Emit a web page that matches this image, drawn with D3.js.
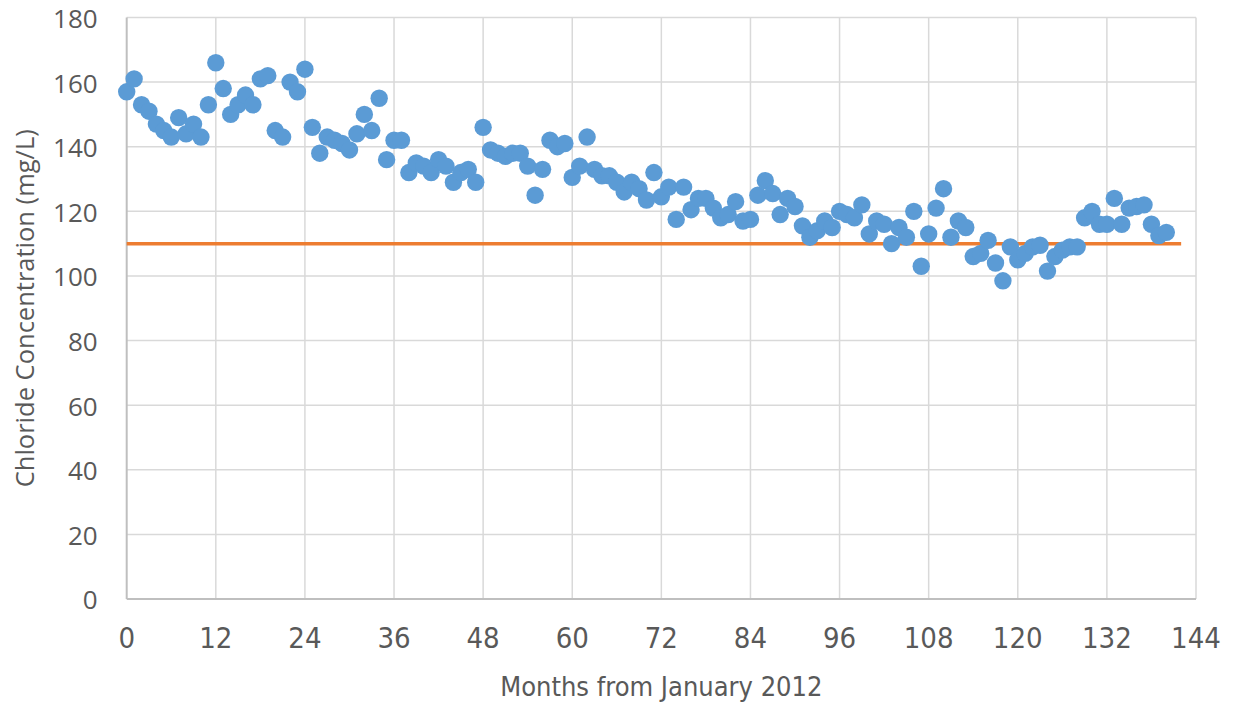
<!DOCTYPE html>
<html>
<head>
<meta charset="utf-8">
<script src="https://cdn.jsdelivr.net/npm/d3@7"></script>
<style>
  body { margin: 0; background: #fff; }
  text { fill: #595959; }
</style>
</head>
<body>
<div id="chart"></div>
<script>
"use strict"

// chloride readings, one per month from Jan 2012 (month 0..140)
var chloride = [
	157, 161, 153, 151, 147, 145, 143, 149, 144, 147, 143, 153, 166, 158, 150, 153, 156, 153, 161, 162,
	145, 143, 160, 157, 164, 146, 138, 143, 142, 141, 139, 144, 150, 145, 155, 136, 142, 142, 132, 135,
	134, 132, 136, 134, 129, 132, 133, 129, 146, 139, 138, 137, 138, 138, 134, 125, 133, 142, 140, 141,
	130.5, 134, 143, 133, 131, 131, 129, 126, 129, 127, 123.5, 132, 124.5, 127.5, 117.5, 127.5, 120.5, 124, 124, 121,
	118, 119, 123, 117, 117.5, 125, 129.5, 125.5, 119, 124, 121.5, 115.5, 112, 114, 117, 115, 120, 119, 118, 122,
	113, 117, 116, 110, 115, 112, 120, 103, 113, 121, 127, 112, 117, 115, 106, 107, 111, 104, 98.5, 109,
	105, 107, 109, 109.5, 101.5, 106, 108, 109, 109, 118, 120, 116, 116, 124, 116, 121, 121.5, 122, 116, 112.5,
	113.5
];
var months = chloride.map(function(d, i) { return i; });

// reference level line
var limitX = [0, 142],
	limitY = [110, 110];

var xTicks = [0, 12, 24, 36, 48, 60, 72, 84, 96, 108, 120, 132, 144],
	yTicks = [0, 20, 40, 60, 80, 100, 120, 140, 160, 180];

var width = 1235,
	height = 706;
var margin = {top: 17.5, right: 39, bottom: 107, left: 126.7};
var w = width - margin.left - margin.right;
var h = height - margin.top - margin.bottom;

var svg = d3.select("#chart").append("svg")
	.attr("width", width)
	.attr("height", height);

var g = svg.append("g")
	.attr("transform", "translate(" + margin.left + "," + margin.top + ")");

var xscale = d3.scaleLinear().domain([0, 144]).range([0, w]);
var yscale = d3.scaleLinear().domain([0, 180]).range([h, 0]);

// gridlines
g.selectAll("line.hgrid").data(yTicks.slice(1)).enter().append("line")
	.attr("class", "hgrid")
	.attr("x1", 0).attr("x2", w)
	.attr("y1", function(d) { return yscale(d); })
	.attr("y2", function(d) { return yscale(d); })
	.attr("stroke", "#d9d9d9").attr("stroke-width", 1.5);

g.selectAll("line.vgrid").data(xTicks.slice(1)).enter().append("line")
	.attr("class", "vgrid")
	.attr("x1", function(d) { return xscale(d); })
	.attr("x2", function(d) { return xscale(d); })
	.attr("y1", 0).attr("y2", h)
	.attr("stroke", "#d9d9d9").attr("stroke-width", 1.5);

// axis lines
g.append("line").attr("x1", 0).attr("x2", w).attr("y1", h).attr("y2", h)
	.attr("stroke", "#bfbfbf").attr("stroke-width", 2);
g.append("line").attr("x1", 0).attr("x2", 0).attr("y1", 0).attr("y2", h)
	.attr("stroke", "#bfbfbf").attr("stroke-width", 2);

// tick labels
g.selectAll("text.ylab").data(yTicks).enter().append("text")
	.attr("class", "ylab")
	.attr("x", -29)
	.attr("y", function(d) { return yscale(d); })
	.attr("dy", "0.4em")
	.attr("text-anchor", "end")
	.style("font-family", "'Open Sans', sans-serif")
	.style("font-size", "26px")
	.text(function(d) { return d; });

g.selectAll("text.xlab").data(xTicks).enter().append("text")
	.attr("class", "xlab")
	.attr("x", function(d) { return xscale(d); })
	.attr("y", h + 39)
	.attr("dy", "0.36em")
	.attr("text-anchor", "middle")
	.style("font-family", "'Liberation Sans Narrow', 'DejaVu Sans Condensed', 'Open Sans', sans-serif")
	.style("font-size", "29px")
	.text(function(d) { return d; });

// axis titles
svg.append("text")
	.attr("transform", "translate(34," + (margin.top + h / 2) + ") rotate(-90)")
	.attr("text-anchor", "middle")
	.style("font-family", "'Open Sans', sans-serif")
	.style("font-size", "25.5px")
	.text("Chloride Concentration (mg/L)");

svg.append("text")
	.attr("x", margin.left + w / 2)
	.attr("y", 696)
	.attr("text-anchor", "middle")
	.style("font-family", "'Liberation Sans Narrow', 'DejaVu Sans Condensed', 'Open Sans', sans-serif")
	.style("font-size", "27px")
	.text("Months from January 2012");

// orange reference line
var line = d3.line()
	.x(function(d) { return xscale(d[0]); })
	.y(function(d) { return yscale(d[1]); });

g.append("path")
	.datum(d3.zip(limitX, limitY))
	.attr("d", line)
	.attr("fill", "none")
	.attr("stroke", "#ed7d31")
	.attr("stroke-width", 3.5);

// markers
g.selectAll("circle").data(months).enter().append("circle")
	.attr("cx", function(d) { return xscale(d); })
	.attr("cy", function(d) { return yscale(chloride[d]); })
	.attr("r", 8.7)
	.attr("fill", "#5b9bd5");
</script>
</body>
</html>
